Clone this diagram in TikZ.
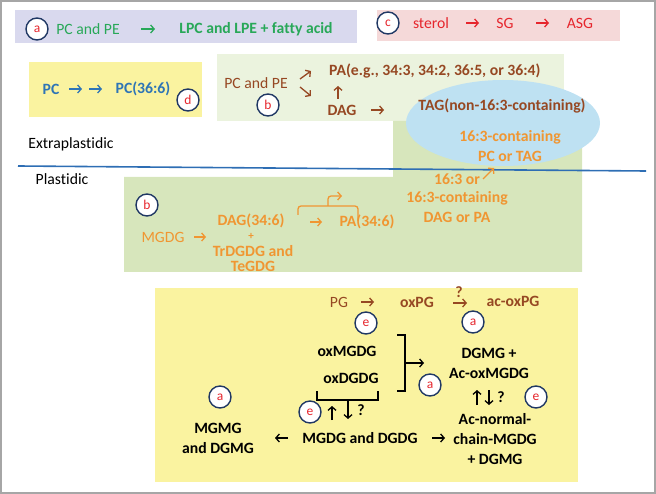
\documentclass[tikz,border=0pt]{standalone}
\usepackage{fontspec}
\setmainfont{Carlito}[Ligatures=NoCommon]
\usetikzlibrary{arrows.meta,positioning,calc}
\definecolor{boxlav}{RGB}{217,217,238}
\definecolor{boxpink}{RGB}{245,217,217}
\definecolor{boxyel}{RGB}{250,243,160}
\definecolor{boxpale}{RGB}{235,243,222}
\definecolor{boxgrn}{RGB}{215,230,188}
\definecolor{ellblue}{RGB}{190,225,242}
\definecolor{txgrn}{RGB}{40,168,88}
\definecolor{txred}{RGB}{230,38,45}
\definecolor{txblue}{RGB}{46,117,182}
\definecolor{txbrown}{RGB}{150,72,35}
\definecolor{txorange}{RGB}{240,150,50}
\definecolor{ringnavy}{RGB}{32,56,100}
\definecolor{lineblue}{RGB}{46,110,180}

\begin{document}
\begin{tikzpicture}[x=1pt,y=-1pt,
  txt/.style={font=\fontsize{15.7}{20}\selectfont, inner sep=0pt, align=center},
  bold/.style={font=\fontsize{15.7}{20}\selectfont\bfseries, inner sep=0pt, align=center},
  tag/.style={circle, draw=ringnavy, line width=1.4pt, fill=white, minimum size=22pt,
    inner sep=0pt, text=txred, font=\fontsize{13.5}{13.5}\selectfont},
  arr/.style={-{Straight Barb[length=3.5pt,width=8pt]}, line width=1.3pt}]
\useasboundingbox (0,0) rectangle (656,494);
\draw[gray!70, line width=1.5pt] (1,1) rectangle (655,493);

% boxes
\fill[boxlav] (15,10) rectangle (357,43);
\fill[boxpink] (377,10) rectangle (620,41);
\fill[boxyel] (29,62) rectangle (202,117);
\fill[boxpale] (217,54) rectangle (564,121);
\fill[boxgrn] (124,177) -- (393,177) -- (393,121) -- (582,121) -- (582,272) -- (124,272) -- cycle;
\fill[ellblue] (503,123) ellipse [x radius=97, y radius=43];
\fill[boxyel] (155,288) rectangle (578,482);

% membrane
\coordinate (L1) at (18,166);
\coordinate (L2) at (646,171);
\draw[lineblue, line width=1.6pt] (L1) -- (L2);
\node[txt] (extra) at (71,144) {Extraplastidic};
\node[txt] (plast) at (62,179) {Plastidic};

% a: phospholipase
\node[tag] (ta) at (37,29) {a};
\node[txt, text=txgrn] (pcpe) at (88,29) {PC and PE};
\node[bold, text=txgrn] (lpc) at (256,29) {LPC and LPE + fatty acid};
\coordinate (a1) at (141,29); \coordinate (a2) at (155,29);
\draw[arr, txgrn] (a1) -- (a2);

% c: sterol
\node[tag] (tc) at (388,23) {c};
\node[txt, text=txred] (sterol) at (431,23) {sterol};
\node[txt, text=txred] (sg) at (505,23) {SG};
\node[txt, text=txred] (asg) at (580,23) {ASG};
\coordinate (c1) at (466,23); \coordinate (c2) at (479,23);
\coordinate (c3) at (536,23); \coordinate (c4) at (549,23);
\draw[arr, txred] (c1) -- (c2);
\draw[arr, txred] (c3) -- (c4);

% d
\node[bold, text=txblue] (pc) at (51,89) {PC};
\node[bold, text=txblue] (pc366) at (143,89) {PC(36:6)};
\node[tag] (td) at (188,100) {d};
\coordinate (d1) at (69,89); \coordinate (d2) at (82,89);
\coordinate (d3) at (89,89); \coordinate (d4) at (102,89);
\draw[arr, txblue] (d1) -- (d2);
\draw[arr, txblue] (d3) -- (d4);

% b: extraplastidic
\node[txt, text=txbrown] (pcpe2) at (256,83) {PC and PE};
\node[tag] (tb1) at (268,105) {b};
\node[bold, text=txbrown, anchor=west] (pa) at (329,71) {PA(e.g., 34:3, 34:2, 36:5, or 36:4)};
\node[bold, text=txbrown] (dag) at (342,110) {DAG};
\node[bold, text=txbrown] (tag) at (502,106) {TAG(non-16:3-containing)};
\coordinate (b1) at (300,79); \coordinate (b2) at (311,71);
\coordinate (b3) at (300,87); \coordinate (b4) at (311,96);
\coordinate (b5) at (338,99); \coordinate (b6) at (338,86);
\coordinate (b7) at (371,110); \coordinate (b8) at (384,110);
\draw[arr, txbrown] (b1) -- (b2);
\draw[arr, txbrown] (b3) -- (b4);
\draw[arr, txbrown] (b5) -- (b6);
\draw[arr, txbrown] (b7) -- (b8);
\node[bold, text=txorange] (pctag) at (510,146) {16:3-containing\\PC or TAG};

% b: plastidic
\node[tag] (tb2) at (147,205) {b};
\node[txt, text=txorange] (mgdg1) at (163,237) {MGDG};
\node[bold, text=txorange] (dag346) at (251,221) {DAG(34:6)};
\node[bold, text=txorange, font=\fontsize{11}{11}\selectfont\bfseries] (plus) at (251,236) {+};
\node[bold, text=txorange, font=\fontsize{15.7}{15}\selectfont\bfseries] (trdgdg) at (253,259) {TrDGDG and\\TeGDG};
\node[bold, text=txorange] (pa346) at (367,222) {PA(34:6)};
\node[bold, text=txorange] (s163) at (457,179) {16:3 or};
\node[bold, text=txorange] (dagpa) at (457,207) {16:3-containing\\DAG or PA};
\coordinate (p1) at (194,237); \coordinate (p2) at (206,237);
\coordinate (p3) at (310,222); \coordinate (p4) at (322,222);
\coordinate (p5) at (483,179); \coordinate (p6) at (494,168);
\draw[arr, txorange] (p1) -- (p2);
\draw[arr, txorange] (p3) -- (p4);
\draw[arr, txorange] (p5) -- (p6);
% bracket over DAG -> PA
\coordinate (k1) at (298,215); \coordinate (k2) at (358,221);
\coordinate (k3) at (328,206); \coordinate (k4) at (342,196);
\draw[txorange, line width=1.3pt, rounded corners=3pt] (k1) |- (k3) -| (k2);
\draw[arr, txorange, rounded corners=3pt] (k3) |- (k4);

% lower box
\node[txt, text=txbrown] (pg) at (339,302) {PG};
\node[bold, text=txbrown] (oxpg) at (417,302) {oxPG};
\node[bold, text=txbrown] (acoxpg) at (513,301) {ac-oxPG};
\node[bold, text=txbrown] (q1) at (459,292) {?};
\coordinate (e1) at (361,302); \coordinate (e2) at (374,302);
\coordinate (e3) at (453,303); \coordinate (e4) at (467,303);
\draw[arr, txbrown] (e1) -- (e2);
\draw[arr, txbrown] (e3) -- (e4);
\node[tag] (te1) at (366,323) {e};
\node[tag] (ta1) at (473,322) {a};

\node[bold] (oxmgdg) at (347,351) {oxMGDG};
\node[bold] (oxdgdg) at (351,378) {oxDGDG};
\node[bold] (dgmg) at (489,363) {DGMG +\\Ac-oxMGDG};
\node[tag] (ta2) at (430,385) {a};
\node[bold] (q2) at (501,397) {?};
\node[tag] (te2) at (536,397) {e};
\node[bold] (acnorm) at (495,439) {Ac-normal-\\chain-MGDG\\+ DGMG};
\node[bold] (mgdg) at (360,438) {MGDG and DGDG};
\node[bold] (mgmg) at (218,438) {MGMG\\and DGMG};
\node[tag] (ta3) at (220,397) {a};
\node[tag] (te3) at (310,412) {e};
\node[bold] (q3) at (361,410) {?};

% right bracket
\coordinate (r1) at (397,335); \coordinate (r2) at (397,391);
\coordinate (r3) at (405,363); \coordinate (r4) at (424,363);
\draw[line width=1.3pt] (r1) -| (r3) |- (r2);
\draw[arr] (r3) -- (r4);
% lower bracket
\coordinate (u1) at (317,391); \coordinate (u2) at (378,391);
\coordinate (u3) at (348,400); \coordinate (u4) at (348,419);
\draw[line width=1.3pt] (u1) |- (u3) -| (u2);
\draw[arr] (u3) -- (u4);
\coordinate (u5) at (332,420); \coordinate (u6) at (332,406);
\draw[arr] (u5) -- (u6);
% up/down between DGMG and Ac-normal
\coordinate (v1) at (477,405); \coordinate (v2) at (477,390);
\coordinate (v3) at (489,390); \coordinate (v4) at (489,405);
\draw[arr] (v1) -- (v2);
\draw[arr] (v3) -- (v4);
% horizontal arrows
\coordinate (h1) at (288,438); \coordinate (h2) at (275,438);
\coordinate (h3) at (432,438); \coordinate (h4) at (445,438);
\draw[arr] (h1) -- (h2);
\draw[arr] (h3) -- (h4);
\end{tikzpicture}
\end{document}
